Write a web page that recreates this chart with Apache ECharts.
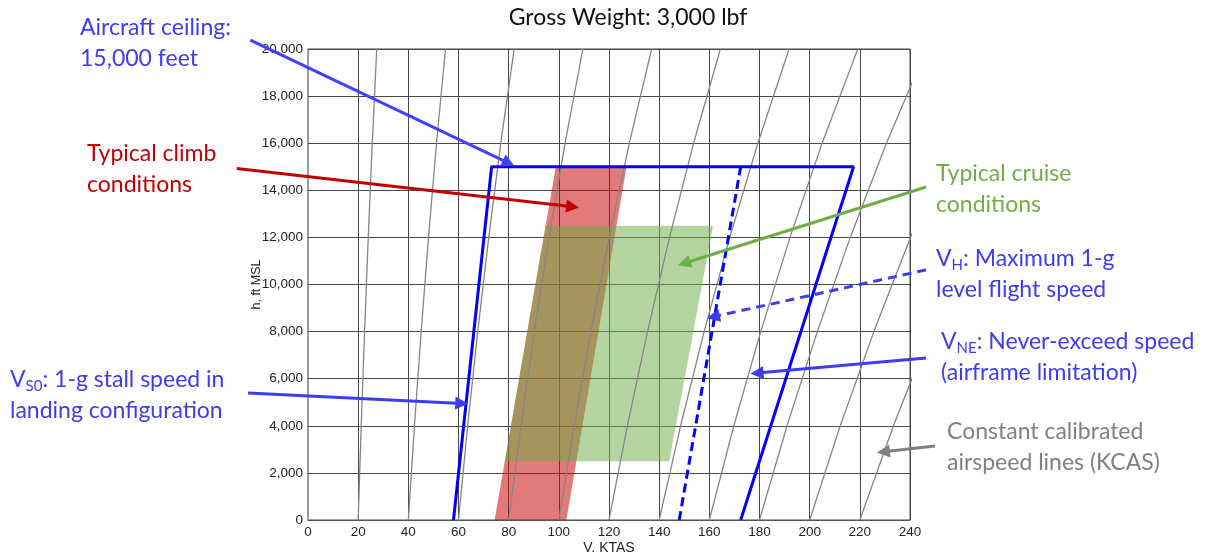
<!DOCTYPE html>
<html>
<head>
<meta charset="utf-8">
<script src="https://cdn.jsdelivr.net/npm/echarts@6/dist/echarts.min.js"></script>
<style>
  html, body { margin: 0; padding: 0; background: #fff; }
  #chart { width: 1210px; height: 552px; }
</style>
</head>
<body>
<div id="chart"></div>
<script>
// axis ticks
const xTicks = [0, 20, 40, 60, 80, 100, 120, 140, 160, 180, 200, 220, 240];
const yTicks = [0, 2000, 4000, 6000, 8000, 10000, 12000, 14000, 16000, 18000, 20000];

// constant KCAS lines, TAS/CAS ratio read at a few altitudes
const kcasLines = [20, 40, 60, 80, 100, 120, 140, 160, 180, 200, 220];
const altitudes = [0, 4000, 8000, 12000, 16000, 20000];
const tasPerCas = [1.000, 1.061, 1.128, 1.201, 1.281, 1.370];

// envelope (KTAS, ft)
const envelope = [[58, 0], [73.2, 15000], [217.5, 15000], [172.5, 0]];
const vhLine = [[148, 0], [172.5, 15000]];
const climbBand = [[74.4, 0], [103, 0], [127, 15000], [98.8, 15000]];
const cruiseBand = [[78.5, 2500], [144, 2500], [161.5, 12500], [94.7, 12500]];

// callout arrows: tail -> tip, in (KTAS, ft)
const arrowCeiling = [[-23, 20380], [80, 15150]];
const arrowClimb = [[-28.4, 14930], [105.5, 13300]];
const arrowCruise = [[246.4, 14140], [150, 10900]];
const arrowVh = [[246.4, 10620], [161.6, 8630]];
const arrowVne = [[246.4, 6880], [179, 6240]];
const arrowVs0 = [[-23.9, 5390], [61.3, 4950]];
const arrowKcas = [[250, 3140], [229.4, 2900]];

const BLUE = '#0000ff';
const TXT_BLUE = '#3c3cf0';
const RED = '#c00000';
const GREEN = '#70ad47';
const GREY = '#808080';

const chart = echarts.init(document.getElementById('chart'));

const kcasSeries = kcasLines.map(function (cas) {
    return {
        type: 'line',
        data: altitudes.map(function (h, i) { return [cas * tasPerCas[i], h]; }),
        symbol: 'none',
        clip: true,
        silent: true,
        z: 3,
        lineStyle: {color: '#858585', width: 1.3}
    };
});

function band(points, color) {
    return {
        type: 'custom',
        data: [0],
        silent: true,
        z: 2,
        renderItem: function (params, api) {
            return {
                type: 'polygon',
                shape: {points: points.map(function (p) { return api.coord(p); })},
                style: {fill: color}
            };
        }
    };
}

function arrow(coords, color, dashed) {
    return {
        type: 'lines',
        coordinateSystem: 'cartesian2d',
        clip: false,
        silent: true,
        z: 6,
        symbol: ['none', 'triangle'],
        symbolSize: [11, 13],
        lineStyle: {color: color, width: 3, type: dashed ? [9, 6] : 'solid', opacity: 1},
        data: [{coords: coords}]
    };
}

const FS = 23;

function label(x, y, text, color, rich) {
    return {
        type: 'text',
        left: x,
        top: y,
        silent: true,
        style: {
            text: text,
            fill: color,
            fontFamily: 'Lato',
            fontSize: FS,
            lineHeight: 31,
            rich: rich || {}
        }
    };
}

function subRich(color) {
    return {
        v: {fontFamily: 'Lato', fontSize: FS, fill: color, lineHeight: 31},
        s: {fontFamily: 'Lato', fontSize: 15, fill: color, lineHeight: 31, padding: [13, 0, 0, 0]}
    };
}

const option = {
    animation: false,
    backgroundColor: '#fff',
    grid: {
        left: 308, right: 300, top: 49, bottom: 32,
        outerBoundsMode: 'none', containLabel: false,
        show: true, borderColor: '#444', borderWidth: 1
    },
    xAxis: {
        type: 'value',
        min: xTicks[0],
        max: xTicks[xTicks.length - 1],
        interval: 20,
        name: 'V, KTAS',
        nameLocation: 'middle',
        nameGap: 21,
        nameMoveOverlap: false,
        nameTextStyle: {fontFamily: 'Liberation Sans', fontSize: 14, color: '#222'},
        axisLine: {lineStyle: {color: '#555', width: 1}},
        axisTick: {show: false},
        axisLabel: {fontFamily: 'Liberation Sans', fontSize: 13.5, color: '#222', margin: 5},
        splitLine: {lineStyle: {color: '#4a4a4a', width: 1}}
    },
    yAxis: {
        type: 'value',
        min: yTicks[0],
        max: yTicks[yTicks.length - 1],
        interval: 2000,
        name: 'h, ft MSL',
        nameLocation: 'middle',
        nameGap: 45,
        nameMoveOverlap: false,
        nameTextStyle: {fontFamily: 'Liberation Sans', fontSize: 12.5, color: '#222'},
        axisLine: {show: true, lineStyle: {color: '#999', width: 1}},
        axisTick: {show: true, inside: true, length: 3, lineStyle: {color: '#444'}},
        axisLabel: {
            fontFamily: 'Liberation Sans', fontSize: 13.5, color: '#222', margin: 5,
            formatter: function (v) { return v.toLocaleString('en-US'); }
        },
        splitLine: {lineStyle: {color: '#4a4a4a', width: 1}}
    },
    graphic: [
        {
            type: 'text', x: 628, y: 18, silent: true,
            style: {text: 'Gross Weight: 3,000 lbf', fill: '#111', fontFamily: 'Lato', fontSize: FS,
                align: 'center', verticalAlign: 'middle'}
        },
        label(80, 12, 'Aircraft ceiling:\n15,000 feet', TXT_BLUE),
        label(87, 138, 'Typical climb\nconditions', RED),
        label(10, 364, '{v|V}{s|S0}{v|: 1-g stall speed in}\n{v|landing configuration}', TXT_BLUE, subRich(TXT_BLUE)),
        label(936, 158, 'Typical cruise\nconditions', GREEN),
        label(936, 243, '{v|V}{s|H}{v|: Maximum 1-g}\n{v|level flight speed}', TXT_BLUE, subRich(TXT_BLUE)),
        label(941, 326, '{v|V}{s|NE}{v|: Never-exceed speed}\n{v|(airframe limitation)}', TXT_BLUE, subRich(TXT_BLUE)),
        label(947, 416, 'Constant calibrated\nairspeed lines (KCAS)', GREY)
    ],
    series: [
        band(climbBand, 'rgba(200,0,0,0.52)'),
        band(cruiseBand, 'rgba(112,173,71,0.52)')
    ].concat(kcasSeries).concat([
        {
            type: 'line',
            data: envelope,
            symbol: 'none',
            clip: false,
            silent: true,
            z: 5,
            lineStyle: {color: BLUE, width: 3}
        },
        {
            type: 'line',
            data: vhLine,
            symbol: 'none',
            clip: false,
            silent: true,
            z: 5,
            lineStyle: {color: BLUE, width: 3, type: [9, 5]}
        },
        arrow(arrowCeiling, '#4040ff'),
        arrow(arrowClimb, RED),
        arrow(arrowCruise, GREEN),
        arrow(arrowVh, '#3c3cf0', true),
        arrow(arrowVne, '#3c3cf0'),
        arrow(arrowVs0, '#3c3cf0'),
        arrow(arrowKcas, GREY)
    ])
};

chart.setOption(option);
</script>
</body>
</html>
